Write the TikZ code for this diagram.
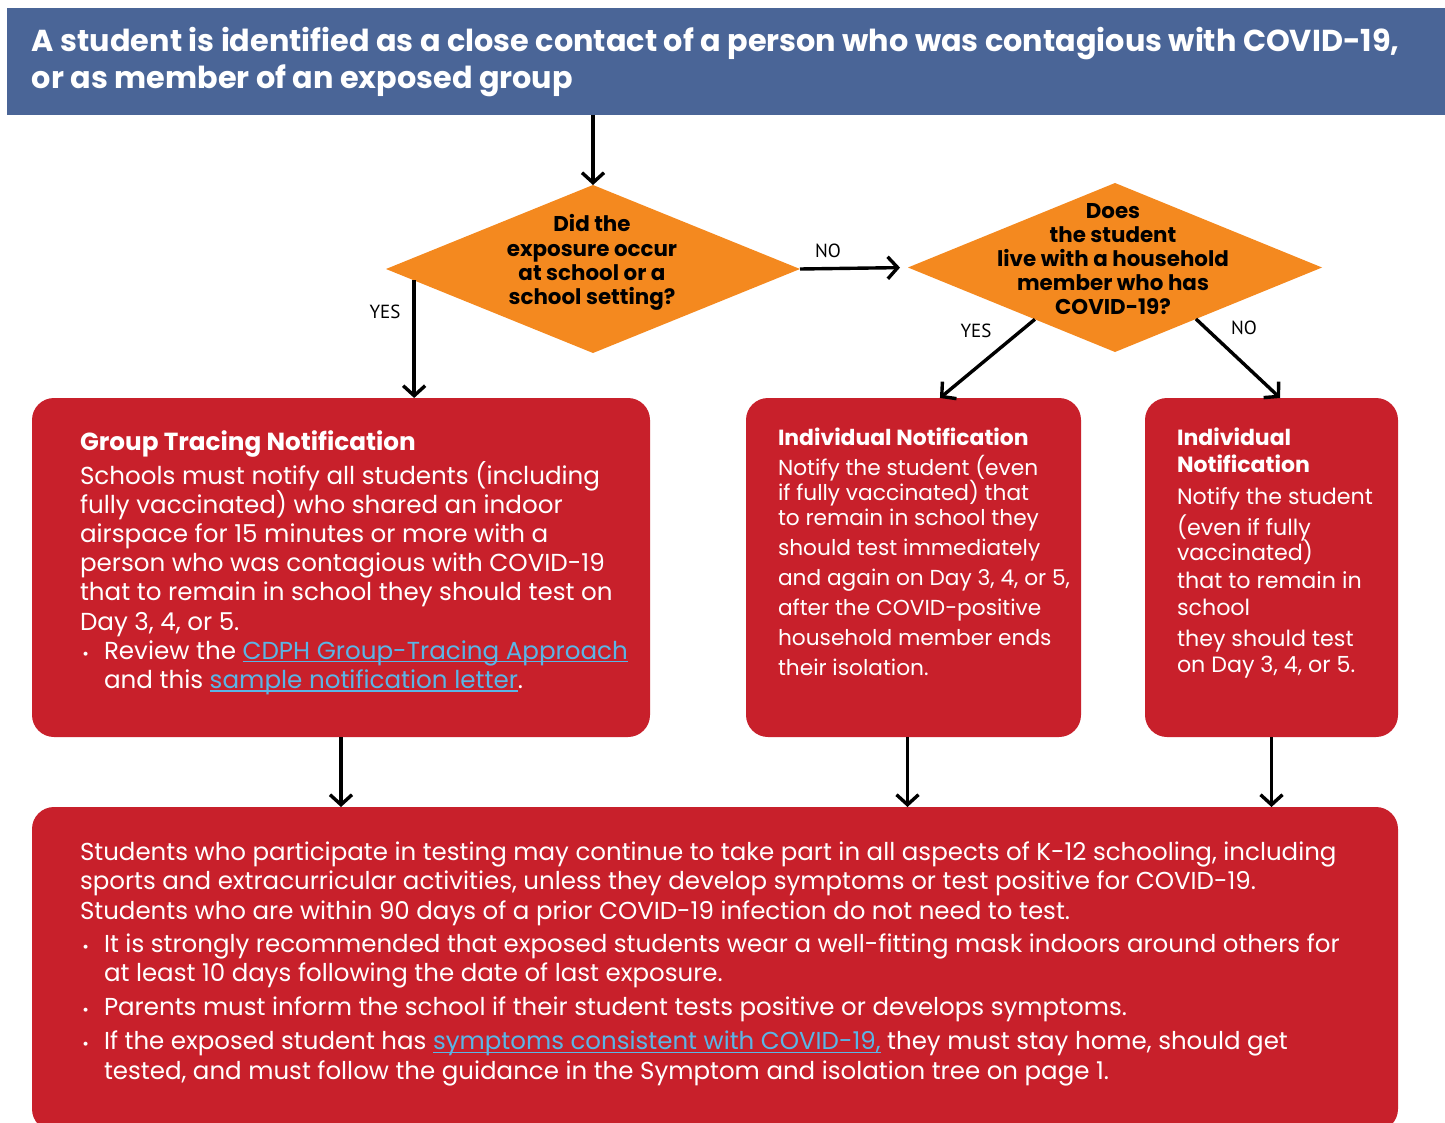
\documentclass[tikz,border=0pt]{standalone}
\usepackage{fontspec}
\setmainfont{Poppins}
\newfontfamily\lblfont{PT Sans}
\usetikzlibrary{shapes.geometric,arrows.meta,calc}
\definecolor{titleblue}{HTML}{4A6597}
\definecolor{dorange}{HTML}{F4891F}
\definecolor{boxred}{HTML}{C8202B}
\definecolor{linkblue}{HTML}{5AB5E6}
\newcommand{\lnk}[1]{\textcolor{linkblue}{\setbox0\hbox{#1}\rlap{\rule[-1.6pt]{\wd0}{0.6pt}}\box0}}
\newcommand{\fl}{\rule{0pt}{14pt}}
\newcommand{\fs}[2]{\fontsize{#1}{#2}\selectfont\lineskiplimit=-20pt\lineskip=0pt\relax}
\newcommand{\bul}{\makebox[12pt][l]{\hspace{1.2pt}{\fontsize{8}{8}\selectfont\textbullet}}}
\newcommand{\ind}{\hspace*{12pt}}
\tikzset{
  redbox/.style={fill=boxred, rounded corners=11pt, inner sep=0pt, outer sep=0pt, anchor=north west},
  dia/.style={diamond, fill=dorange, inner sep=0pt, outer sep=0pt, minimum width=207pt},
  txt/.style={inner sep=0pt, outer sep=0pt, anchor=north west, align=left, text=white},
  dtxt/.style={inner sep=0pt, outer sep=0pt, anchor=north, align=center, text=black,
    font=\bfseries\fs{10.7}{12}},
  lbl/.style={inner sep=0pt, anchor=base, font=\lblfont\fontsize{9.5}{11}\selectfont},
  arr/.style={line width=1.7pt, -{Straight Barb[length=5pt,width=11pt]}}
}
\begin{document}
\begin{tikzpicture}[x=0.5pt,y=-0.5pt]
\useasboundingbox (0,0) rectangle (1445,1123);
\begin{scope}
\clip (0,0) rectangle (1445,1123);
% title banner
\node[fill=titleblue, inner sep=0pt, outer sep=0pt, anchor=north west,
  minimum width=719pt, minimum height=53.5pt] (title) at (7,8) {};
\node[txt, font=\bfseries\fs{15.15}{18.5}] (titletext) at (32,24)
  {\fl A student is identified as a close contact of a person who was contagious with COVID-19,\\
   or as member of an exposed group};

% diamonds
\node[dia, minimum height=84pt] (d1) at (593,269) {};
\node[dia, minimum height=84.5pt] (d2) at (1115,267.5) {};
\node[dtxt] (d1t) at (592,204) {\fl Did the\\ exposure occur\\ at school or a\\ school setting?};
\node[dtxt] (d2t) at (1113,190.5) {\fl Does\\ the student\\ live with a household\\ member who has\\ COVID-19?};

% boxes
\node[redbox, minimum width=309pt, minimum height=169.5pt] (b1) at (32,398) {};
\node[redbox, minimum width=167.5pt, minimum height=169.5pt] (b2) at (746,398) {};
\node[redbox, minimum width=126.5pt, minimum height=169.5pt] (b3) at (1145,398) {};
\node[redbox, minimum width=683pt, minimum height=162pt] (b4) at (32,807) {};

% box 1 text
\node[txt, font=\bfseries\fs{12.35}{14}] (b1h) at (80,422) {\fl Group Tracing Notification};
\node[txt, font=\fs{12.3}{14.6}] (b1b) at (80,456)
  {\fl Schools must notify all students (including\\
   fully vaccinated) who shared an indoor\\
   airspace for 15 minutes or more with a\\
   person who was contagious with COVID-19\\
   that to remain in school they should test on\\
   Day 3, 4, or 5.\\
   \bul Review the \lnk{CDPH Group-Tracing Approach}\\
   \ind and this \lnk{sample notification letter}.};

% box 2 text
\node[txt, font=\bfseries\fs{10.95}{13}] (b2h) at (778,417) {\fl Individual Notification};
\node[txt, font=\fs{10.85}{12.6}] (b2b) at (778,447)
  {\fl Notify the student (even\\
   if fully vaccinated) that\\
   to remain in school they\\[2.4pt]
   should test immediately\\[2.4pt]
   and again on Day 3, 4, or 5,\\[2.4pt]
   after the COVID-positive\\[2.4pt]
   household member ends\\[2.4pt]
   their isolation.};

% box 3 text
\node[txt, font=\bfseries\fs{11}{13.5}] (b3h) at (1177,417) {\fl Individual\\ Notification};
\node[txt, font=\fs{11.1}{12.75}] (b3b) at (1177,476)
  {\fl Notify the student\\[2.75pt]
   (even if fully\\
   vaccinated)\\[1.25pt]
   that to remain in\\[0.75pt]
   school\\[2.75pt]
   they should test\\
   on Day 3, 4, or 5.};

% bottom text
\node[txt, font=\fs{12.25}{14.8}] (b4b) at (80,832)
  {\fl Students who participate in testing may continue to take part in all aspects of K-12 schooling, including\\
   sports and extracurricular activities, unless they develop symptoms or test positive for COVID-19.\\
   Students who are within 90 days of a prior COVID-19 infection do not need to test.\\[1.75pt]
   \bul It is strongly recommended that exposed students wear a well-fitting mask indoors around others for\\
   \ind at least 10 days following the date of last exposure.\\[2pt]
   \bul Parents must inform the school if their student tests positive or develops symptoms.\\[2.25pt]
   \bul If the exposed student has \lnk{symptoms consistent with COVID-19,} they must stay home, should get\\
   \ind tested, and must follow the guidance in the Symptom and isolation tree on page 1.};
\end{scope}

% connectors
\draw[arr] (d1.north |- title.south) -- (d1.north);
\draw[arr, shorten >=4pt] (d1.east) -- (d2.west);
\coordinate (y1s) at ($(d1.west)!0.136!(d1.south)$);
\draw[arr] (y1s) -- (y1s |- b1.north);
\coordinate (y2s) at ($(d2.west)!0.613!(d2.south)$);
\draw[arr] (y2s) -- ($(b2.north west)!0.579!(b2.north east)$);
\coordinate (n2s) at ($(d2.south)!0.391!(d2.east)$);
\draw[arr] (n2s) -- ($(b3.north west)!0.534!(b3.north east)$);
\draw[arr] (b1.south) -- (b1.south |- b4.north);
\draw[arr] ([xshift=-3pt]b2.south) -- ([xshift=-3pt]b2.south |- b4.north);
\draw[arr] (b3.south) -- (b3.south |- b4.north);

% labels
\node[lbl] (lno1) at (828,257) {NO};
\node[lbl] (lyes1) at (385,318) {YES};
\node[lbl] (lyes2) at (976,337) {YES};
\node[lbl] (lno2) at (1244,334) {NO};
\end{tikzpicture}
\end{document}
